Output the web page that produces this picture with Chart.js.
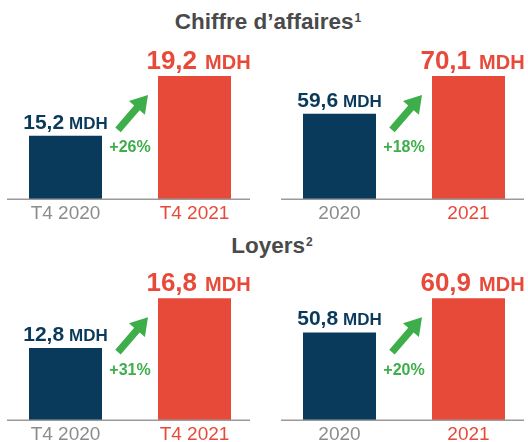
<!DOCTYPE html>
<html><head><meta charset="utf-8">
<script src="https://cdn.jsdelivr.net/npm/chart.js@4/dist/chart.umd.min.js"></script>
<style>
html,body{margin:0;padding:0;width:528px;height:442px;overflow:hidden;background:#fff;font-family:"Liberation Sans",Arial,sans-serif;}
.title{position:absolute;left:0;width:528px;text-align:center;font-weight:bold;font-size:22.5px;color:#4a4a4a;line-height:24px;}
.title sup{font-size:12px;line-height:1;vertical-align:top;position:relative;top:2px;margin-left:1px;}
canvas{position:absolute;}
</style></head><body>
<div class="title" style="top:10px;left:4px">Chiffre d’affaires<sup>1</sup></div>
<div class="title" style="top:234px;left:8px">Loyers<sup>2</sup></div>
<canvas id="c0" width="264" height="228"></canvas>
<canvas id="c1" width="264" height="228"></canvas>
<canvas id="c2" width="264" height="228"></canvas>
<canvas id="c3" width="264" height="228"></canvas>
<script>
// ---- data ----
const labelsQuarter = ['T4 2020', 'T4 2021'];
const labelsYear = ['2020', '2021'];
const caQuarter = [15.2, 19.2];
const caYear = [59.6, 70.1];
const loyersQuarter = [12.8, 16.8];
const loyersYear = [50.8, 60.9];
const growthLabels = ['+26%', '+18%', '+31%', '+20%'];
const unitLabel = 'MDH';

// ---- styling ----
const NAVY = '#0a3a5b';
const RED = '#e84a3a';
const GREEN = '#3dae4a';
const GRAY = '#8c8c8c';

const panels = [
  {id:'c0', left:0,   top:0,   labels:labelsQuarter, values:caQuarter,     growth:growthLabels[0], min:10.97, max:21.6},
  {id:'c1', left:274, top:0,   labels:labelsYear,    values:caYear,        growth:growthLabels[1], min:35.97, max:80.04},
  {id:'c2', left:0,   top:221, labels:labelsQuarter, values:loyersQuarter, growth:growthLabels[2], min:7.02,  max:19.78},
  {id:'c3', left:274, top:221, labels:labelsYear,    values:loyersYear,    growth:growthLabels[3], min:24.89, max:71.86}
];

function fmt(v){ return v.toFixed(1).replace('.', ','); }

const annotPlugin = {
  id: 'annot',
  afterDatasetsDraw(chart, args, opts) {
    const ctx = chart.ctx;
    const area = chart.chartArea;
    const meta = chart.getDatasetMeta(0);
    const vals = chart.data.datasets[0].data;
    ctx.save();
    // baseline
    ctx.strokeStyle = '#9a9a9a';
    ctx.lineWidth = 1.5;
    ctx.beginPath();
    ctx.moveTo(area.left + 6, area.bottom);
    ctx.lineTo(area.right - 9, area.bottom);
    ctx.stroke();
    // value labels
    const sizes = [[21, 17, 5, 0], [26, 20, 8, 4]];
    const colors = [NAVY, RED];
    meta.data.forEach((bar, i) => {
      const [s1, s2, gap, dx] = sizes[i];
      const num = fmt(vals[i]);
      ctx.font = 'bold ' + s1 + 'px "Liberation Sans", Arial, sans-serif';
      const w1 = ctx.measureText(num).width;
      ctx.font = 'bold ' + s2 + 'px "Liberation Sans", Arial, sans-serif';
      const w2 = ctx.measureText(unitLabel).width;
      const total = w1 + gap + w2;
      const x0 = bar.x + dx - total / 2;
      const yb = bar.y - 7;
      ctx.fillStyle = colors[i];
      ctx.textBaseline = 'alphabetic';
      ctx.textAlign = 'left';
      ctx.font = 'bold ' + s1 + 'px "Liberation Sans", Arial, sans-serif';
      ctx.fillText(num, x0, yb);
      ctx.font = 'bold ' + s2 + 'px "Liberation Sans", Arial, sans-serif';
      ctx.fillText(unitLabel, x0 + w1 + gap, yb);
    });
    // arrow
    const b1 = meta.data[0], b2 = meta.data[1];
    const tip = {x: b2.x - b2.width / 2 - 10, y: b2.y + 19};
    const tail = {x: b1.x + b1.width / 2 + 16, y: tip.y + 35};
    const dxv = tip.x - tail.x, dyv = tip.y - tail.y;
    const len = Math.hypot(dxv, dyv);
    const ux = dxv / len, uy = dyv / len;
    const nx = -uy, ny = ux;
    const hl = 17, hw = 10.5, sw = 3.6;
    const neck = {x: tip.x - ux * hl, y: tip.y - uy * hl};
    ctx.fillStyle = GREEN;
    ctx.beginPath();
    ctx.moveTo(tail.x + nx * sw, tail.y + ny * sw);
    ctx.lineTo(neck.x + nx * sw, neck.y + ny * sw);
    ctx.lineTo(neck.x + nx * hw, neck.y + ny * hw);
    ctx.lineTo(tip.x, tip.y);
    ctx.lineTo(neck.x - nx * hw, neck.y - ny * hw);
    ctx.lineTo(neck.x - nx * sw, neck.y - ny * sw);
    ctx.lineTo(tail.x - nx * sw, tail.y - ny * sw);
    ctx.closePath();
    ctx.fill();
    // growth label
    ctx.font = 'bold 16px "Liberation Sans", Arial, sans-serif';
    ctx.textAlign = 'center';
    ctx.textBaseline = 'middle';
    ctx.fillText(opts.growth, tail.x + 12, tail.y + 18);
    ctx.restore();
  }
};

panels.forEach(p => {
  const el = document.getElementById(p.id);
  el.style.left = p.left + 'px';
  el.style.top = p.top + 'px';
  new Chart(el, {
    type: 'bar',
    data: {
      labels: p.labels,
      datasets: [{
        data: p.values,
        backgroundColor: [NAVY, RED],
        borderWidth: 0,
        barPercentage: 73 / 129,
        categoryPercentage: 1
      }]
    },
    options: {
      responsive: false,
      animation: false,
      devicePixelRatio: 1,
      layout: {padding: {left: 1, right: 5, top: 40, bottom: 0}},
      plugins: {legend: {display: false}, tooltip: {enabled: false}, title: {display: false},
                annot: {growth: p.growth}},
      scales: {
        y: {display: false, min: p.min, max: p.max},
        x: {
          grid: {display: false, drawTicks: false},
          border: {display: false},
          ticks: {
            padding: 3,
            color: c => c.index === 1 ? RED : GRAY,
            font: {size: 19, family: '"Liberation Sans", Arial, sans-serif'}
          }
        }
      }
    },
    plugins: [annotPlugin]
  });
});
</script>
</body></html>
